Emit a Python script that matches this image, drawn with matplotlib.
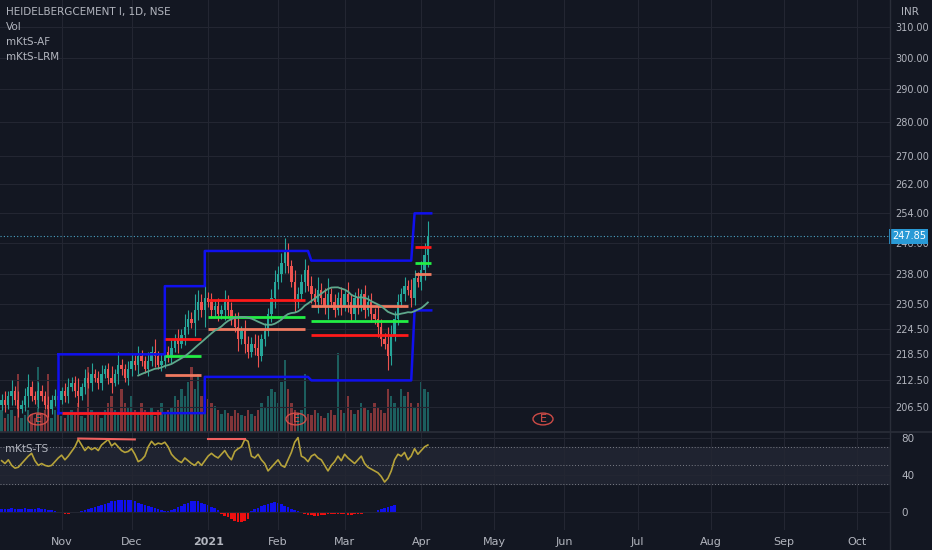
import numpy as np
import matplotlib
matplotlib.use("Agg")
import matplotlib.pyplot as plt
from matplotlib.patches import Circle

# daily closes, Oct 7 2020 .. Apr 7 2021 (business days)
closes = [208, 207, 209, 210, 208, 206, 207, 209, 211, 209,
          208, 210, 209, 207, 206, 208, 209, 208, 210, 209,
          211, 212, 210, 209, 211, 213, 212, 214, 213, 212,
          214, 215, 213, 212, 214, 216, 215, 213, 215, 217,
          216, 218, 217, 215, 217, 219, 218, 216, 217, 219,
          218, 220, 222, 221, 223, 225, 227, 226, 229, 231,
          229, 232, 231, 229, 230, 228, 229, 231, 229, 227,
          225, 222, 224, 221, 219, 221, 220, 218, 222, 224,
          228, 232, 236, 238, 241, 244, 240, 236, 231, 233,
          236, 239, 235, 233, 231, 234, 232, 230, 233, 231,
          229, 232, 230, 233, 231, 228, 232, 230, 233, 229,
          231, 228, 227, 225, 222, 221, 218, 223, 227, 231,
          233, 235, 234, 232, 237, 236, 239, 243, 248]
wicks = [1.5, 2, 1, 2.5, 1.2, 2, 1, 1.8, 3, 1.4,
         1, 2.2, 1.5, 1, 2, 1.3, 1.6, 2.4, 1, 1.8,
         2, 1.2, 1.5, 3, 1, 2, 1.4, 2.5, 1.2, 1.7,
         2, 1.1, 1.6, 2.8, 1, 3, 1.5, 1.2, 2, 1.9,
         1.3, 2.5, 1.6, 1, 2, 1.4, 3, 1.2, 1.8, 2.2,
         1.5, 2, 1.2, 2.6, 1.4, 3, 2, 1.5, 4, 3,
         2, 5, 1.5, 2.4, 1.6, 2, 1.3, 3, 1.8, 2,
         1.4, 3.5, 1.2, 2.6, 1.8, 1.5, 2.2, 3, 1.4, 2,
         1.6, 2.4, 3, 2, 2.5, 3.5, 2, 1.6, 3, 1.8,
         2, 3, 1.4, 2.6, 1.5, 3.2, 1.8, 2.5, 4, 1.6,
         2, 1.5, 2.8, 1.4, 3, 2, 1.6, 2.5, 1.3, 2.2,
         1.8, 2.4, 1.6, 3, 2, 1.5, 4, 2.5, 1.8, 2,
         1.6, 2.2, 1.5, 2.8, 2, 1.6, 2.5, 3, 4]
volume = [3, 2, 2.5, 3, 2.2, 8, 2, 2.4, 3, 2.5,
          2, 9, 2.6, 3, 8, 2, 3, 2.5, 2.2, 2,
          2.4, 3, 2.6, 4, 2.2, 2, 9, 3, 2.5, 2.4,
          2, 3, 4, 5, 3, 2.6, 6, 4, 3.5, 5,
          3, 2.6, 4, 3, 2.4, 3.5, 2.2, 3, 4, 2.6,
          3, 3.5, 5, 4.5, 6, 5, 7, 9, 6, 8,
          5, 4, 4.6, 4, 3.6, 3, 2.5, 3, 2.6, 2.2,
          3, 2.6, 2.4, 2.2, 3, 2.5, 2.2, 3, 4, 3.5,
          5, 6, 5.5, 4, 7, 10, 6, 4, 3, 2.6,
          3, 8, 2.5, 2.4, 3, 2.6, 2.2, 2, 2.6, 3,
          2.4, 11, 3, 2.6, 5, 3, 2.5, 3, 4, 3.5,
          3, 2.6, 4, 3.5, 3, 2.6, 6, 5, 4, 3.5,
          6, 5, 5.5, 4, 3.5, 4, 7, 6, 5.5]
ts_vals = [55, 52, 56, 50, 47, 48, 52, 56, 60, 63,
           55, 50, 52, 50, 49, 50, 54, 58, 61, 56,
           60, 65, 70, 78, 72, 66, 70, 67, 69, 66,
           72, 75, 78, 71, 74, 70, 66, 64, 65, 68,
           62, 54, 56, 60, 70, 76, 72, 74, 73, 75,
           70, 62, 58, 55, 53, 58, 55, 52, 50, 54,
           50, 55, 60, 63, 60, 58, 62, 66, 60, 56,
           65, 68, 70, 78, 76, 60, 58, 62, 56, 52,
           44, 48, 52, 56, 50, 48, 56, 64, 75, 80,
           60, 58, 54, 60, 62, 58, 56, 50, 44, 50,
           54, 60, 55, 62, 58, 55, 52, 56, 60, 52,
           48, 46, 44, 42, 38, 32, 36, 44, 56, 62,
           60, 64, 56, 60, 68, 62, 66, 70, 72]
hist = [0.5, 0.6, 0.5, 0.7, 0.6, 0.5, 0.6, 0.7, 0.6, 0.5,
        0.6, 0.7, 0.6, 0.5, 0.4, 0.3, 0.2, -0.1, -0.3, -0.4,
        -0.4, -0.3, -0.2, 0.0, 0.1, 0.3, 0.5, 0.7, 0.9, 1.1,
        1.3, 1.5, 1.8, 2.0, 2.1, 2.2, 2.3, 2.3, 2.2, 2.2,
        2.0, 1.8, 1.6, 1.4, 1.2, 1.0, 0.8, 0.6, 0.4, 0.2,
        0.1, 0.3, 0.6, 0.9, 1.2, 1.5, 1.8, 2.0, 2.1, 2.0,
        1.8, 1.6, 1.3, 1.0, 0.7, 0.4, -0.5, -0.8, -1.1, -1.5,
        -1.8, -2.0, -2.1, -1.8, -1.4, 0.2, 0.5, 0.8, 1.1, 1.4,
        1.6, 1.8, 1.9, 1.8, 1.5, 1.2, 0.9, 0.6, 0.4, 0.2,
        -0.2, -0.4, -0.6, -0.7, -0.8, -0.8, -0.7, -0.6, -0.5, -0.5,
        -0.4, -0.4, -0.5, -0.5, -0.6, -0.6, -0.5, -0.4, -0.4, -0.3,
        -0.3, -0.2, -0.2, 0.3, 0.5, 0.8, 1.0, 1.2, 1.3]
# channel steps (start bar, end bar, price)
upper_steps = [(17, 49, 218.5), (49, 61, 235), (61, 92, 244), (93, 123, 241.5), (124, 129, 254)]
lower_steps = [(17, 61, 205.2), (61, 92, 213.3), (93, 123, 212.5), (124, 129, 229)]
levels = [(18, 48, 205.2, '#ff1a1a'),
          (49, 60, 222, '#ff1a1a'), (49, 60, 218, '#22ee44'), (49, 60, 213.7, '#f07a60'),
          (62, 91, 231.5, '#ff1a1a'), (62, 91, 227.5, '#22ee44'), (62, 91, 224.5, '#f07a60'),
          (93, 122, 230, '#f07a60'), (93, 122, 226.5, '#22ee44'), (93, 122, 223, '#ff1a1a'),
          (124, 129, 245, '#ff1a1a'), (124, 129, 241, '#22ee44'), (124, 129, 238, '#f07a60')]
price_ticks = [206.5, 212.5, 218.5, 224.5, 230.5, 238, 246, 254, 262, 270, 280, 290, 300, 310]
months = ['2020-11', '2020-12', '2021-01', '2021-02', '2021-03', '2021-04', '2021-05',
          '2021-06', '2021-07', '2021-08', '2021-09', '2021-10']
month_labels = ['Nov', 'Dec', '2021', 'Feb', 'Mar', 'Apr', 'May', 'Jun', 'Jul', 'Aug', 'Sep', 'Oct']
last_price = 247.85

BG = '#131722'
GRID = '#232632'
TXT = '#b2b5be'
UP, DN = '#26a69a', '#ef5350'

n = len(closes)
x = np.arange(n)
opens = [closes[0] - 1] + closes[:-1]
month_x = [np.busday_count('2020-10-07', m + '-01') for m in months]

fig = plt.figure(figsize=(9.32, 5.5), dpi=100, facecolor=BG)
ax = fig.add_axes([0, 0.2145, 0.955, 0.7855], facecolor=BG)
ax2 = fig.add_axes([0, 0.036, 0.955, 0.1785], facecolor=BG, sharex=ax)

# volume
axv = ax.twinx()
axv.set_zorder(0)
ax.set_zorder(1)
ax.patch.set_visible(False)
vcol = [UP if c >= o else DN for o, c in zip(opens, closes)]
axv.bar(x, volume, width=0.7, color=vcol, alpha=0.5)
axv.set_ylim(0, 60)
axv.axis('off')

# candles
for i in range(n):
    o, c = opens[i], closes[i]
    col = UP if c >= o else DN
    hi = max(o, c) + wicks[i]
    lo = min(o, c) - wicks[i] * 0.8
    ax.vlines(i, lo, hi, color=col, lw=0.8, zorder=3)
    ax.bar(i, abs(c - o) if abs(c - o) > 0.2 else 0.2, bottom=min(o, c), width=0.7, color=col, zorder=3)

for steps in (upper_steps, lower_steps):
    xs, ys = [], []
    for s, e, p in steps:
        xs += [s, e]
        ys += [p, p]
    ax.plot(xs, ys, color='#1010ee', lw=1.8, zorder=4)
ax.plot([17, 17], [lower_steps[0][2], upper_steps[0][2]], color='#1010ee', lw=1.8, zorder=4)
for s, e, p, c in levels:
    ax.hlines(p, s, e, color=c, lw=2, zorder=4)

ma = np.convolve(closes, np.ones(20) / 20, mode='valid')
ax.plot(x[19 + 22:], ma[22:], color='#5fa88c', lw=1.3, zorder=5)

ax.axhline(last_price, color='#4aa3c4', lw=0.8, ls=(0, (1, 2)), zorder=2)
ax.set_yscale('log')
ax.set_ylim(201.1, 319)
ax.set_xlim(-0.5, 266.8)
ax.set_yticks(price_ticks)
ax.set_yticklabels(['%.2f' % p for p in price_ticks])
ax.minorticks_off()
ax.yaxis.tick_right()
ax.tick_params(axis='y', colors=TXT, labelsize=7, length=0, pad=4)
ax.tick_params(axis='x', length=0, labelbottom=False)
ax.set_xticks(month_x)
ax.grid(True, color=GRID, lw=0.8)
ax.text(1.002, last_price, '%.2f' % last_price, transform=ax.get_yaxis_transform(), color='white',
        fontsize=7, va='center', ha='left', bbox=dict(boxstyle='square,pad=0.25', fc='#2a9ad6', ec='none'), zorder=10)
for xp in (38, 296, 543):
    fig.patches.append(Circle((xp / 932, 1 - 419 / 550), 10 / 932, transform=fig.transFigure,
                              fill=False, ec='#e0504a', lw=1, alpha=0.9))
    fig.text(xp / 932, 1 - 419 / 550, 'E', color='#e0504a', ha='center', va='center', fontsize=8)

# TS pane
ax2.axhspan(30, 70, color='#1f2330', zorder=0)
for lv in (70, 50, 30):
    ax2.axhline(lv, color='#7a7d86', lw=0.7, ls=(0, (1, 2)))
ax2.plot(x, ts_vals, color='#b5a23a', lw=1.2)
ax2.plot([23, 40], [79, 78], color='#f06060', lw=1.5)
ax2.plot([62, 73], [78, 78], color='#f06060', lw=1.5)
hcol = ['#1010ee' if h >= 0 else '#ee1010' for h in hist]
ax2.bar(np.arange(len(hist)), [h * 5.5 for h in hist], color=hcol, width=0.8)
ax2.set_ylim(-20, 86)
ax2.set_yticks([0, 40, 80])
ax2.yaxis.tick_right()
ax2.tick_params(axis='y', colors=TXT, labelsize=7.5, length=0, pad=8)
ax2.set_xticks(month_x)
ax2.set_xticklabels(month_labels)
ax2.tick_params(axis='x', colors=TXT, labelsize=8, length=0, pad=5)
ax2.get_xticklabels()[2].set_fontweight('bold')
ax2.grid(True, color=GRID, lw=0.8)
ax2.text(0.006, 0.88, 'mKtS-TS', transform=ax2.transAxes, color=TXT, fontsize=7.5, va='top')

for a in (ax, ax2):
    for sp in a.spines.values():
        sp.set_visible(False)
fig.add_artist(plt.Line2D([0, 1], [0.2145, 0.2145], color='#2a2e39', lw=1.2))
fig.add_artist(plt.Line2D([0.955, 0.955], [0, 1], color='#2a2e39', lw=1))

legend = ['HEIDELBERGCEMENT I, 1D, NSE', 'Vol', 'mKtS-AF', 'mKtS-LRM']
for k, t in enumerate(legend):
    fig.text(0.006, 1 - (12 + 15 * k) / 550, t, color=TXT, fontsize=7.5, va='center')
fig.text(0.976, 1 - 12 / 550, 'INR', color=TXT, fontsize=7.5, va='center', ha='center')

fig.savefig('out.png', dpi=100, facecolor=BG)
